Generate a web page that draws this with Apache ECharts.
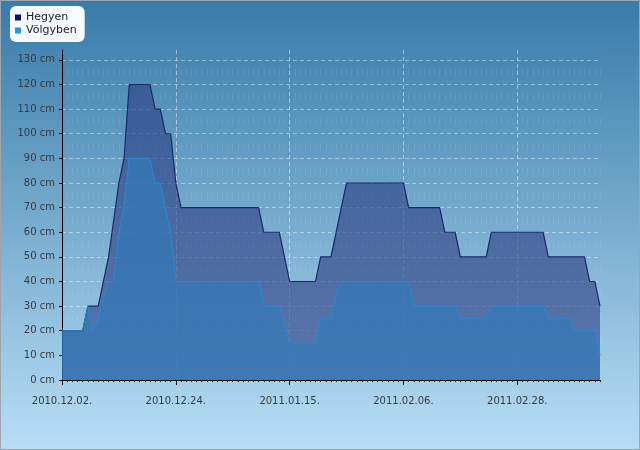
<!DOCTYPE html>
<html lang="hu">
<head>
  <meta charset="utf-8">
  <script src="https://cdn.jsdelivr.net/npm/echarts@6/dist/echarts.min.js"></script>
</head>
<body style="margin: 0">
  <div id="container" style="width: 640px; height: 450px"></div>
  <script type="text/javascript">
    // hóvastagság napi értékei, cm (2010.12.02-tól)
    var startDate = [2010, 12, 2];

    var hegyen = [
      20, 20, 20, 20, 20, 30, 30, 30, 40, 50, 65, 80, 90,
      120, 120, 120, 120, 120, 110, 110, 100, 100, 80,
      70, 70, 70, 70, 70, 70, 70, 70, 70, 70, 70, 70, 70, 70, 70, 70,
      60, 60, 60, 60, 50,
      40, 40, 40, 40, 40, 40,
      50, 50, 50, 60, 70,
      80, 80, 80, 80, 80, 80, 80, 80, 80, 80, 80, 80,
      70, 70, 70, 70, 70, 70, 70,
      60, 60, 60,
      50, 50, 50, 50, 50, 50,
      60, 60, 60, 60, 60, 60, 60, 60, 60, 60, 60,
      50, 50, 50, 50, 50, 50, 50, 50,
      40, 40, 30
    ];

    var volgyben = [
      20, 20, 20, 20, 20, 30, 20, 25, 33, 40, 40, 60, 70,
      90, 90, 90, 90, 90, 80, 80, 70, 60,
      40, 40, 40, 40, 40, 40, 40, 40, 40, 40, 40, 40, 40, 40, 40, 40, 40,
      30, 30, 30, 30, 22,
      15, 15, 15, 15, 15, 15,
      25, 25, 25, 35,
      40, 40, 40, 40, 40, 40, 40, 40, 40, 40, 40, 40, 40, 40,
      30, 30, 30, 30, 30, 30, 30, 30, 30,
      25, 25, 25, 25, 25, 25,
      30, 30, 30, 30, 30, 30, 30, 30, 30, 30, 30,
      25, 25, 25, 25, 25,
      20, 20, 20, 20, 20,
      10
    ];

    var seriesNames = ['Hegyen', 'Völgyben'];
    var yMax = 134;
    var yStep = 10;

    // dátum feliratok: 2010.12.02.
    var pad = function(n) { return (n < 10 ? '0' : '') + n; };
    var dates = [];
    for (var i = 0; i < hegyen.length; i++) {
      var d = new Date(Date.UTC(startDate[0], startDate[1] - 1, startDate[2] + i));
      dates.push(d.getUTCFullYear() + '.' + pad(d.getUTCMonth() + 1) + '.' + pad(d.getUTCDate()) + '.');
    }

    // a legfelső (134 cm-es) segédvonal ne látsszon
    var hLineColors = [];
    for (var v = 0; v <= 130; v += yStep) hLineColors.push('rgba(255,255,255,0.42)');
    hLineColors.push('rgba(0,0,0,0)');

    var font = 'DejaVu Sans';
    var chart = echarts.init(document.getElementById('container'));

    var option = {
      animation: false,
      backgroundColor: {
        type: 'linear', x: 0, y: 0, x2: 0, y2: 1,
        colorStops: [
          { offset: 0, color: '#387ba9' },
          { offset: 1, color: '#b8def5' }
        ]
      },
      graphic: [{
        type: 'rect',
        shape: { x: 0.5, y: 0.5, width: 639, height: 449 },
        style: { fill: 'none', stroke: '#9aa6b0', lineWidth: 1 },
        silent: true
      }],
      legend: {
        orient: 'vertical',
        left: 10,
        top: 6,
        padding: [6, 8, 6, 5],
        itemGap: 2,
        itemWidth: 6,
        itemHeight: 6,
        backgroundColor: '#f6fbff',
        borderRadius: 6,
        textStyle: { fontFamily: font, fontSize: 11, color: '#1a1a2a' },
        data: [
          { name: seriesNames[0], icon: 'rect', itemStyle: { color: '#0b1264' } },
          { name: seriesNames[1], icon: 'rect', itemStyle: { color: '#2296e0' } }
        ]
      },
      grid: { left: 62, right: 40, top: 50, bottom: 70, containLabel: false },
      xAxis: [
        {
          type: 'category',
          position: 'bottom',
          data: dates,
          boundaryGap: false,
          axisLine: { lineStyle: { color: '#000', width: 1 } },
          axisTick: { interval: 0, length: 2, lineStyle: { color: '#222' } },
          axisLabel: {
            interval: 21, margin: 16,
            fontFamily: font, fontSize: 10, color: '#3a3a3a'
          },
          splitLine: {
            show: true, interval: 21,
            lineStyle: { color: 'rgba(255,255,255,0.45)', type: [4, 3] }
          }
        },
        {
          type: 'category',
          position: 'bottom',
          data: dates,
          boundaryGap: false,
          axisLine: { show: false },
          axisLabel: { show: false },
          axisTick: { interval: 21, length: 5, lineStyle: { color: '#000' } },
          splitLine: {
            show: true, interval: 0,
            lineStyle: { color: 'rgba(255,255,255,0.09)', type: [7, 17.63], dashOffset: 5.96 }
          }
        }
      ],
      yAxis: {
        type: 'value',
        min: 0,
        max: yMax,
        interval: yStep,
        axisLine: { show: true, lineStyle: { color: '#000', width: 1 } },
        axisTick: { show: true, length: 3, lineStyle: { color: '#000' } },
        axisLabel: {
          formatter: '{value} cm', showMaxLabel: false, margin: 7,
          fontFamily: font, fontSize: 10, color: '#3a3a3a'
        },
        splitLine: {
          show: true,
          lineStyle: { color: hLineColors, type: [4, 3] }
        }
      },
      series: [
        {
          name: seriesNames[0],
          type: 'line',
          data: hegyen,
          symbol: 'none',
          itemStyle: { color: '#0b1264' },
          lineStyle: { color: '#1b2868', width: 1.2 },
          areaStyle: { color: 'rgba(42,60,128,0.86)' }
        },
        {
          name: seriesNames[1],
          type: 'line',
          data: volgyben,
          symbol: 'none',
          itemStyle: { color: '#2296e0' },
          lineStyle: { color: '#2a88d2', width: 1 },
          areaStyle: { color: 'rgba(48,122,186,0.95)' }
        }
      ]
    };

    chart.setOption(option);
  </script>
</body>
</html>
